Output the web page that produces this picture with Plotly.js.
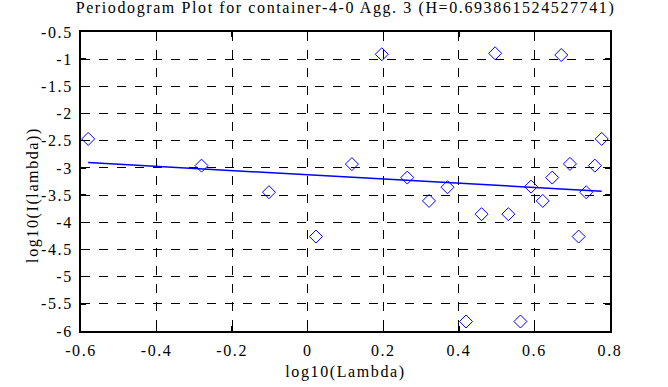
<!DOCTYPE html>
<html><head><meta charset="utf-8">
<script src="https://cdn.plot.ly/plotly-3.0.1.min.js"></script>
<style>html,body{margin:0;padding:0;background:#fff;} #chart text{letter-spacing:1.6px;}</style>
</head><body>
<div id="chart" style="width:668px;height:387px;"></div>
<script>
const logLambda = [-0.581, -0.281, -0.1025, 0.0219, 0.117, 0.196, 0.2635, 0.321, 0.370, 0.419, 0.460, 0.496, 0.531, 0.563, 0.591, 0.622, 0.647, 0.671, 0.694, 0.717, 0.737, 0.760, 0.778];
const logI = [-2.467, -2.958, -3.447, -4.263, -2.93, -0.91, -3.178, -3.607, -3.355, -5.825, -3.851, -0.892, -3.851, -5.825, -3.344, -3.607, -3.178, -0.923, -2.926, -4.263, -3.447, -2.958, -2.467];
const fitX = [-0.581, 0.778];
const fitY = [-2.902, -3.429];
const xTicks = [-0.6, -0.4, -0.2, 0, 0.2, 0.4, 0.6, 0.8];
const xTickText = ['-0.6', '-0.4', '-0.2', '0', '0.2', '0.4', '0.6', '0.8'];
const yTicks = [-6, -5.5, -5, -4.5, -4, -3.5, -3, -2.5, -2, -1.5, -1, -0.5];
const yTickText = ['-6', '-5.5', '-5', '-4.5', '-4', '-3.5', '-3', '-2.5', '-2', '-1.5', '-1', '-0.5'];

const FS = 16;
const font = {family: '"Liberation Serif", serif', size: FS, color: '#000'};
const traces = [
  {x: logLambda, y: logI, mode: 'markers', type: 'scatter',
   marker: {symbol: 'diamond-open', size: 10, color: '#0000ff', line: {width: 1, color: '#0000ff'}}},
  {x: fitX, y: fitY, mode: 'lines', type: 'scatter', line: {color: '#0000ff', width: 1.5}}
];
const axisCommon = {showline: true, linecolor: '#000', linewidth: 2, mirror: 'ticks', ticks: 'inside', ticklen: 5, tickcolor: '#000', tickwidth: 1.5,
  showgrid: true, gridcolor: '#000', griddash: 'dash', gridwidth: 1, zeroline: false, tickfont: font};
const layout = {
  width: 668, height: 387, paper_bgcolor: '#fff', plot_bgcolor: '#fff', showlegend: false,
  margin: {l: 81, r: 58, t: 32, b: 56},
  font: font,
  title: {text: 'Periodogram Plot for container-4-0 Agg. 3 (H=0.693861524527741)', font: font, x: 0.5, xref: 'paper', y: 0.995, yref: 'container', yanchor: 'top'},
  xaxis: Object.assign({}, axisCommon, {range: [-0.6, 0.8], tickvals: xTicks, ticktext: xTickText, ticklabelstandoff: 8,
    title: {text: 'log10(Lambda)', font: font, standoff: 6}}),
  yaxis: Object.assign({}, axisCommon, {range: [-6, -0.5], tickvals: yTicks, ticktext: yTickText, ticklabelstandoff: 6,
    title: {text: 'log10(I(lambda))', font: font, standoff: 10}})
};
const gd = document.getElementById('chart');
const rect = sel => gd.querySelector(sel).getBoundingClientRect();
const baseline = r => r.bottom - 0.216 * FS;
Plotly.newPlot(gd, traces, layout, {displayModeBar: false, staticPlot: true}).then(() => {
  // align tick labels
  const xb = baseline(rect('.xtick text'));
  const yr = Math.max(...Array.from(gd.querySelectorAll('.ytick text')).map(t => t.getBoundingClientRect().right));
  return Plotly.relayout(gd, {
    'xaxis.ticklabelstandoff': Math.round(8 + (356 - xb)),
    'yaxis.ticklabelstandoff': Math.round(6 + (yr - 72.5))
  });
}).then(() => {
  const tb = baseline(rect('.gtitle'));
  const xtb = baseline(rect('.g-xtitle text'));
  const ytr = rect('.g-ytitle text');
  const ycx = (ytr.left + ytr.right) / 2;
  return Plotly.relayout(gd, {
    'title.y': 0.995 - (13.5 - tb) / 387,
    'xaxis.title.standoff': Math.max(0, Math.round(6 + (378 - xtb))),
    'yaxis.title.standoff': Math.max(0, Math.round(10 + (ycx - 33)))
  });
}).then(() => {
  const g = gd.querySelector('.g-ytitle');
  const r = rect('.g-ytitle text');
  const dy = 195 - (r.top + r.bottom) / 2;
  g.setAttribute('transform', 'translate(0,' + dy.toFixed(1) + ')');
});
</script>
</body></html>
